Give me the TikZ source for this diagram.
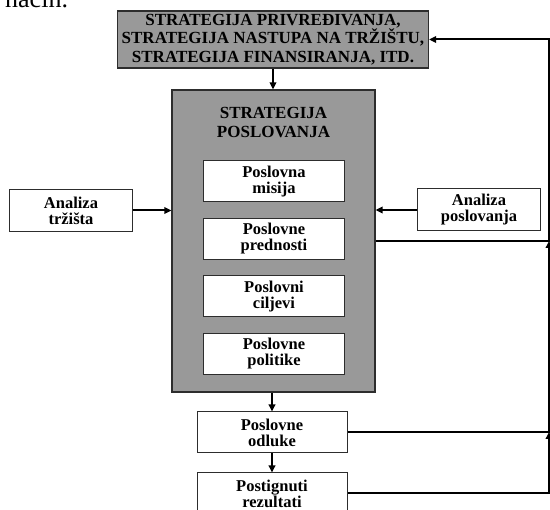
\documentclass[tikz,border=0pt]{standalone}
\usepackage{fontspec}
\setmainfont{Liberation Serif}
\usetikzlibrary{arrows.meta,calc,positioning}
\definecolor{sivapodloga}{RGB}{153,153,153}
\definecolor{tamnaivica}{RGB}{45,45,45}
\tikzset{
  vrh/.style={
    draw=tamnaivica,
    fill=sivapodloga,
    line width=1.2pt,
    align=center,
    inner sep=0pt,
    minimum width=311pt,
    minimum height=57pt,
    font=\bfseries\fontsize{17}{18.5}\selectfont
  },
  glavni/.style={
    draw=tamnaivica,
    fill=sivapodloga,
    line width=1.2pt,
    inner sep=0pt,
    minimum width=203pt,
    minimum height=302pt
  },
  naslov/.style={
    align=center,
    inner sep=0pt,
    font=\bfseries\fontsize{17}{19}\selectfont
  },
  podblok/.style={
    draw=tamnaivica,
    fill=white,
    line width=1pt,
    align=center,
    inner sep=0pt,
    minimum width=141pt,
    minimum height=41pt,
    font=\bfseries\fontsize{16.5}{16}\selectfont
  },
  blok/.style={
    podblok,
    minimum width=150pt
  },
  analiza/.style={
    podblok,
    minimum width=123pt,
    minimum height=42pt
  },
  strelica/.style={
    -{Triangle[length=7pt,width=6.5pt]},
    line width=2pt,
    black
  }
}

\begin{document}
\begin{tikzpicture}[x=1pt,y=-1pt,node distance=15.5pt]
\useasboundingbox (0,0) rectangle (550,510);
\node[anchor=base west, inner sep=0pt, font=\fontsize{26}{26}\selectfont] (nacin) at (5,7.5) {način.};
\node[vrh] (strategije) at (273,39.5) {STRATEGIJA PRIVREĐIVANJA,\\STRATEGIJA NASTUPA NA TRŽIŠTU,\\STRATEGIJA FINANSIRANJA, ITD.};
\node[glavni] (glavna) at (273.5,241) {};
\node[naslov] (naslovglavne) at (273.5,122.5) {STRATEGIJA\\POSLOVANJA};
% unutrasnji blokovi
\node[podblok] (misija) at (274,181.5) {Poslovna\\misija};
\node[podblok, below=of misija] (prednosti) {Poslovne\\prednosti};
\node[podblok, below=of prednosti] (ciljevi) {Poslovni\\ciljevi};
\node[podblok, below=of ciljevi] (politike) {Poslovne\\politike};
% analize
\node[analiza] (trziste) at (71,210.5) {Analiza\\tržišta};
\node[analiza] (poslovanje) at (479,210) {Analiza\\poslovanja};
% odluke i rezultati
\node[blok] (odluke) at (272,432.5) {Poslovne\\odluke};
\node[blok, below=19pt of odluke] (rezultati) {Postignuti\\rezultati};
% strelice
\draw[strelica] (strategije.south) -- (strategije.south |- glavna.north);
\draw[strelica] (trziste.east) -- (trziste.east -| glavna.west);
\draw[strelica] (poslovanje.west) -- (poslovanje.west -| glavna.east);
\draw[strelica] (glavna.south -| odluke.north) -- (odluke.north);
\draw[strelica] (odluke.south) -- (rezultati.north);
% povratne veze
\coordinate (povrat) at (549,241);
\coordinate (povratdva) at (549,432);
\draw[strelica] (glavna.east) -- (povrat) |- (strategije.east);
\draw[strelica] (odluke.east |- povratdva) -- (povratdva) -- (povrat);
\draw[strelica] (rezultati.east) -| (povratdva);
\end{tikzpicture}
\end{document}
